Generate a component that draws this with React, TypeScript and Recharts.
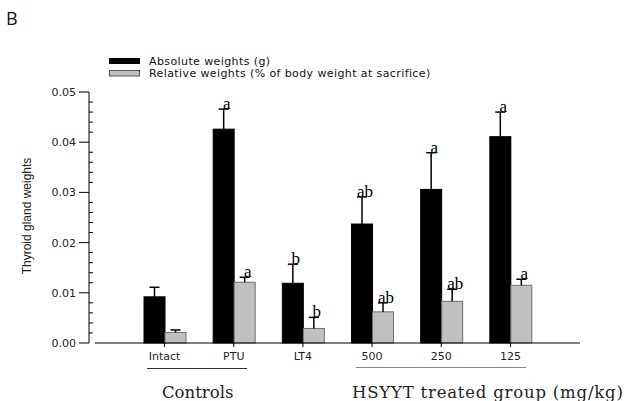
import { BarChart, Bar, XAxis, YAxis } from 'recharts';

// Thyroid gland weights per group
const categories = ['Intact', 'PTU', 'LT4', '500', '250', '125'];
const absoluteWeights = [0.0092, 0.0426, 0.0119, 0.0237, 0.0306, 0.0411];
const absoluteErrors = [0.0019, 0.004, 0.0038, 0.0054, 0.0073, 0.0049];
const relativeWeights = [0.0021, 0.0121, 0.0029, 0.0062, 0.0083, 0.0115];
const relativeErrors = [0.0005, 0.001, 0.0022, 0.0018, 0.0024, 0.0012];
const absoluteLetters = ['', 'a', 'b', 'ab', 'a', 'a'];
const relativeLetters = ['', 'a', 'b', 'ab', 'ab', 'a'];
const yTicks = Array.from({ length: 26 }, (_, i) => +(i * 0.002).toFixed(3));

const data = categories.map((name, i) => ({
  name,
  absolute: absoluteWeights[i],
  absErr: absoluteErrors[i],
  absLetter: absoluteLetters[i],
  relative: relativeWeights[i],
  relErr: relativeErrors[i],
  relLetter: relativeLetters[i],
}));

const sans = '"DejaVu Sans", sans-serif';
const serif = '"Liberation Serif", "Times New Roman", serif';

// bar + one-sided error bar + significance letter
function makeShape(valueKey: string, errKey: string, letterKey: string, fill: string, stroke: string) {
  return (props: any) => {
    const { x, y, width, height, payload } = props;
    const v = payload[valueKey];
    const perUnit = v ? height / v : 0;
    const top = y - payload[errKey] * perUnit;
    const cx = x + width / 2;
    return (
      <g>
        <rect x={x} y={y} width={width} height={height} fill={fill} stroke={stroke} strokeWidth={1} />
        <line x1={cx} y1={y} x2={cx} y2={top} stroke="#000" strokeWidth={1.5} />
        <line x1={cx - 5} y1={top} x2={cx + 5} y2={top} stroke="#000" strokeWidth={1.5} />
        {payload[letterKey] ? (
          <text x={cx + 3} y={top} textAnchor="middle" fontFamily={serif} fontSize={17} fill="#000">
            {payload[letterKey]}
          </text>
        ) : null}
      </g>
    );
  };
}

const YTick = (props: any) => {
  const { x, y, payload } = props;
  const ax = x - 6;
  const major = Math.round(payload.value * 1000) % 10 === 0;
  if (!major) {
    return <line x1={ax} y1={y} x2={ax + 4} y2={y} stroke="#000" strokeWidth={1} />;
  }
  return (
    <g>
      <line x1={ax - 10} y1={y} x2={ax} y2={y} stroke="#000" strokeWidth={1} />
      <text x={ax - 13} y={y} dy="0.36em" textAnchor="end" fontFamily={sans} fontSize={11} fill="#222">
        {payload.value.toFixed(2)}
      </text>
    </g>
  );
};

export default function App() {
  return (
    <div style={{ position: 'fixed', left: 0, top: 0, width: 624, height: 401, background: '#fff' }}>
      <BarChart
        width={624}
        height={401}
        data={data}
        margin={{ top: 92, right: 44, bottom: 28, left: 35 }}
        barSize={21}
        barGap={0}
      >
        <XAxis
          dataKey="name"
          height={30}
          padding={{ left: 35, right: 35 }}
          tickSize={4}
          tickMargin={5}
          tickLine={{ stroke: '#000' }}
          axisLine={{ stroke: '#000' }}
          tick={{ fontFamily: sans, fontSize: 11, fill: '#222' }}
        />
        <YAxis
          width={60}
          domain={[0, 0.05]}
          ticks={yTicks}
          interval={0}
          tickSize={0}
          tickMargin={0}
          axisLine={{ stroke: '#000', transform: 'translate(-6,0)' }}
          tick={<YTick />}
        />
        <Bar dataKey="absolute" isAnimationActive={false} shape={makeShape('absolute', 'absErr', 'absLetter', '#000', '#000')} />
        <Bar dataKey="relative" isAnimationActive={false} shape={makeShape('relative', 'relErr', 'relLetter', '#c0c0c0', '#707070')} />
      </BarChart>
      <svg width={624} height={401} style={{ position: 'absolute', left: 0, top: 0, pointerEvents: 'none' }}>
        <text x={6} y={25} fontFamily='"Open Sans", sans-serif' fontSize={18} fill="#111">B</text>
        <rect x={109} y={58} width={31} height={6} fill="#000" />
        <text x={149} y={64.5} fontFamily={sans} fontSize={11} letterSpacing={0.4} fill="#111">Absolute weights (g)</text>
        <rect x={109.5} y={70.5} width={30} height={5.5} fill="#c0c0c0" stroke="#555" strokeWidth={1} />
        <text x={149} y={76.5} fontFamily={sans} fontSize={11} letterSpacing={0.4} fill="#111">
          Relative weights (% of body weight at sacrifice)
        </text>
        <text
          x={0}
          y={0}
          transform="translate(31,216) rotate(-90)"
          textAnchor="middle"
          fontFamily='"Liberation Sans", Arial, sans-serif'
          fontSize={12}
          fill="#222"
        >
          Thyroid gland weights
        </text>
        <line x1={147} y1={368.5} x2={247} y2={368.5} stroke="#333" strokeWidth={1} />
        <line x1={356} y1={367.5} x2={526} y2={367.5} stroke="#888" strokeWidth={1.2} />
        <text x={162} y={398} fontFamily='"DejaVu Serif", serif' fontSize={16.5} fill="#222">Controls</text>
        <text x={352} y={398} fontFamily='"DejaVu Serif", serif' fontSize={16.5} letterSpacing={0.8} fill="#222">
          HSYYT treated group (mg/kg)
        </text>
      </svg>
    </div>
  );
}
